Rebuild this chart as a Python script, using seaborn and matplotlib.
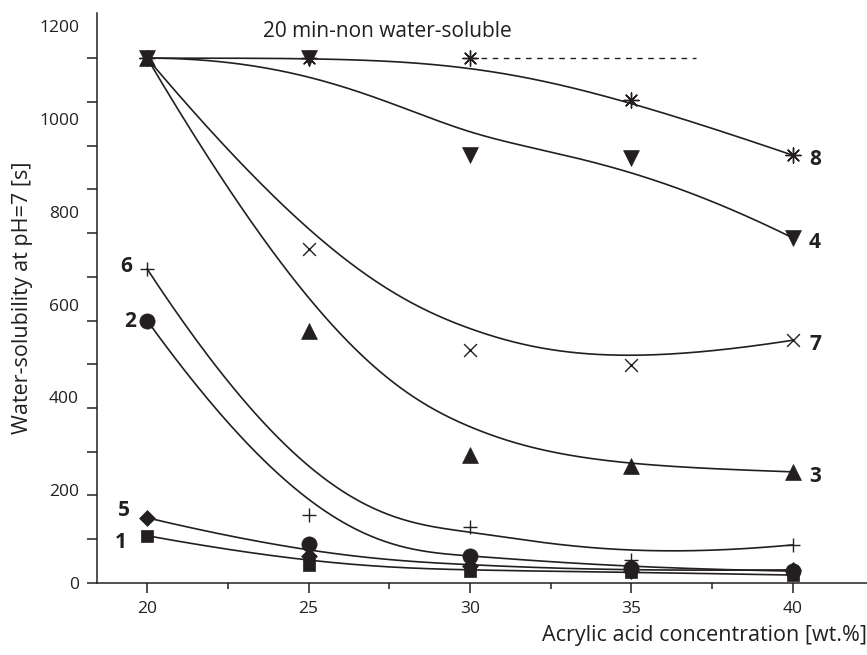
import numpy as np
import pandas as pd
import matplotlib
matplotlib.use("Agg")
import matplotlib.pyplot as plt
import seaborn as sns

# acrylic acid concentration [wt.%]
conc = [20, 25, 30, 35, 40]

# water-solubility time at pH=7 [s]
s1 = [108, 41, 27, 25, 18]
s2 = [600, 89, 62, 34, 27]
s3 = [1200, 576, 293, 267, 254]
s4 = [1200, 1200, 978, 971, 789]
s5 = [149, 62, 39, 27, 30]
s6 = [718, 155, 128, 53, 87]
s7 = [1200, 763, 533, 498, 555]
s8 = [1200, 1200, 1200, 1104, 978]

series_names = ["1", "2", "3", "4", "5", "6", "7", "8"]
series_vals = [s1, s2, s3, s4, s5, s6, s7, s8]
markers = ["s", "o", "^", "v", "D", "+", "x", (8, 2, 0)]
label_side = ["left", "left", "right", "right", "left", "left", "right", "right"]

# dashed "non water-soluble" line
dash_x = [30, 37]
dash_y = [1200, 1200]

yticks_major = list(range(0, 1201, 200))
ink = "#231f20"


def bspline(cx, cy, k=3, n=300):
    # clamped uniform B-spline, points used as control points (Origin style)
    m = len(cx)
    knots = np.r_[[0] * (k + 1), np.arange(1, m - k), [m - k] * (k + 1)].astype(float)
    t = np.linspace(0, m - k - 1e-9, n)

    def N(i, p):
        if p == 0:
            return ((knots[i] <= t) & (t < knots[i + 1])).astype(float)
        out = np.zeros_like(t)
        d1 = knots[i + p] - knots[i]
        d2 = knots[i + p + 1] - knots[i + 1]
        if d1 > 0:
            out += (t - knots[i]) / d1 * N(i, p - 1)
        if d2 > 0:
            out += (knots[i + p + 1] - t) / d2 * N(i + 1, p - 1)
        return out

    B = np.array([N(i, k) for i in range(m)])
    return B.T @ np.asarray(cx, float), B.T @ np.asarray(cy, float)


sns.set_style("ticks")
plt.rcParams["font.family"] = ["Open Sans", "DejaVu Sans"]

fig = plt.figure(figsize=(8.67, 6.55), dpi=100)
ax = fig.add_axes([0.112, 0.11, 0.888, 0.87])

sizes = {"s": 85, "o": 120, "^": 130, "v": 130, "D": 65, "+": 100, "x": 85}
for name, vals, mk, side in zip(series_names, series_vals, markers, label_side):
    bx, by = bspline(conc, vals)
    sns.lineplot(x=bx, y=by, sort=False, color=ink, linewidth=1.2, ax=ax)
    filled = mk in ["s", "o", "^", "v", "D"]
    size = sizes.get(mk, 120) if isinstance(mk, str) else 120
    sns.scatterplot(x=conc, y=vals, marker=mk, s=size, color=ink,
                    edgecolor=ink if filled else None,
                    linewidth=0.5 if filled else 1.0, zorder=3, ax=ax)
    if side == "left":
        offs = {"1": (-19, -5), "2": (-12, -1), "5": (-17, 5), "6": (-15, 2)}[name]
        xy = (conc[0], vals[0])
    else:
        offs = (16, -3)
        xy = (conc[-1], vals[-1])
    ax.annotate(name, xy=xy, xytext=offs, textcoords="offset points",
                ha="center", va="center", fontsize=15, fontweight="bold", color=ink)

ax.plot(dash_x, dash_y, linestyle=(0, (4, 4)), color=ink, linewidth=1.0)
ax.text(23.6, 1262, "20 min-non water-soluble", fontsize=15, color=ink, va="center")

ax.set_xlim(18.45, 42.3)
ax.set_ylim(0, 1303)
ax.set_xticks([20, 25, 30, 35, 40])
ax.set_xticks([22.5, 27.5, 32.5, 37.5], minor=True)
ax.set_yticks(range(0, 1201, 100))
ax.set_yticklabels([])
ax.tick_params(axis="x", which="major", length=7, width=1.1, labelsize=12.5, colors=ink, pad=6)
ax.tick_params(axis="x", which="minor", length=4, width=1.1, colors=ink)
ax.tick_params(axis="y", length=7, width=1.1, colors=ink)
for sp in ["top", "right"]:
    ax.spines[sp].set_visible(False)
for sp in ["left", "bottom"]:
    ax.spines[sp].set_linewidth(1.1)
    ax.spines[sp].set_color(ink)
ax.set_xlabel("Acrylic acid concentration [wt.%]", fontsize=15.5, color=ink, loc="right", labelpad=6)
ax.set_ylabel("")

# tick labels sit on a slightly different scale in the original figure
ax2 = ax.twinx()
ax2.set_ylim(0, 1228)
ax2.set_yticks(yticks_major)
ax2.yaxis.tick_left()
ax2.yaxis.set_label_position("left")
ax2.tick_params(axis="y", length=0, pad=13, labelsize=12.5, colors=ink)
for sp in ax2.spines.values():
    sp.set_visible(False)
ax2.set_ylabel("Water-solubility at pH=7 [s]", fontsize=15.5, color=ink, labelpad=4)

fig.savefig("out.png", dpi=100)
